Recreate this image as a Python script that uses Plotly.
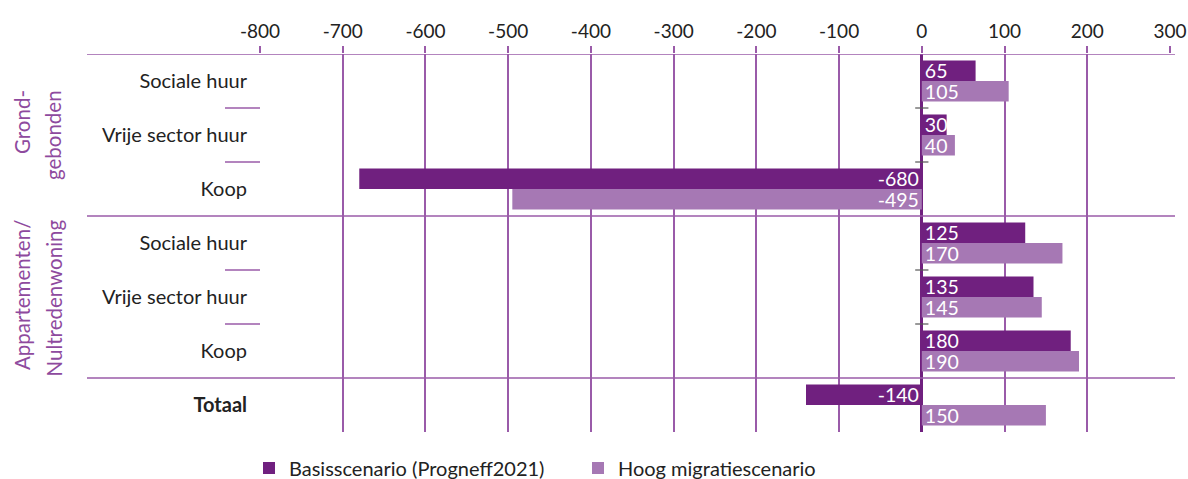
import plotly.graph_objects as go

categories = ["Sociale huur", "Vrije sector huur", "Koop",
              "Sociale huur", "Vrije sector huur", "Koop", "<b>Totaal</b>"]
basis = [65, 30, -680, 125, 135, 180, -140]
hoog = [105, 40, -495, 170, 145, 190, 150]
series_names = ["Basisscenario (Progneff2021)", "Hoog migratiescenario"]
group_lines = [["Grond-", "gebonden"], ["Appartementen/", "Nultredenwoning"]]
x_ticks = list(range(-800, 301, 100))
x_ticktext = [str(v) for v in x_ticks]

DARK = "#70207F"
LIGHT = "#A678B4"
GRID = "#9A5BA9"
FONT = "Lato"

ypos = list(range(len(categories)))

fig = go.Figure()
for name, vals, col in [(series_names[0], basis, DARK), (series_names[1], hoog, LIGHT)]:
    fig.add_trace(go.Bar(
        y=ypos, x=vals, name=name, orientation="h",
        marker=dict(color=col, line=dict(width=0)),
        text=[str(v) for v in vals], textposition="inside", textangle=0,
        insidetextanchor="start", constraintext="none",
        textfont=dict(color="white", size=19.5, family=FONT),
        hoverinfo="x+name",
    ))

W, H = 1188, 479
plot_l, plot_r, plot_t, plot_b = 260, 1170, 54, 432
ml, mr, mt, mb = plot_l, W - plot_r, plot_t, H - plot_b
pw = plot_r - plot_l
ph = plot_b - plot_t

def px2paper_x(px):
    return (px - plot_l) / pw

def px2paper_y(py):
    return 1 - (py - plot_t) / ph

shapes = []
for yb in [-0.5, 2.5, 5.5]:
    shapes.append(dict(type="line", xref="paper", yref="y",
                       x0=px2paper_x(87), x1=px2paper_x(1175), y0=yb, y1=yb,
                       line=dict(color=GRID, width=1.5), layer="above"))
for yb in [0.5, 1.5, 3.5, 4.5]:
    shapes.append(dict(type="line", xref="paper", yref="y",
                       x0=px2paper_x(225), x1=0, y0=yb, y1=yb,
                       line=dict(color=GRID, width=1.5)))
    shapes.append(dict(type="line", xref="x", yref="y",
                       x0=-8, x1=8, y0=yb, y1=yb,
                       line=dict(color="#555555", width=1.2), layer="above"))

annotations = []
label_tops = [88, 218]
line_x = [22, 53]
for g, lines in enumerate(group_lines):
    for j, txt in enumerate(lines):
        annotations.append(dict(text=txt, xref="paper", yref="paper",
                                x=px2paper_x(line_x[j]), y=px2paper_y(label_tops[g]),
                                xanchor="center", yanchor="top",
                                textangle=-90, showarrow=False,
                                font=dict(family=FONT, size=20.5, color="#8E4A9E")))

fig.update_layout(
    width=W, height=H,
    margin=dict(l=ml, r=mr, t=mt, b=mb, autoexpand=False),
    paper_bgcolor="white", plot_bgcolor="white",
    barmode="group", bargap=0.24, bargroupgap=0,
    font=dict(family=FONT, color="#222222"),
    shapes=shapes, annotations=annotations,
    legend=dict(orientation="h", xref="container", yref="container",
                x=249 / W, xanchor="left", y=(H - 468) / H, yanchor="middle",
                font=dict(family=FONT, size=20, color="#222222"),
                entrywidth=284, entrywidthmode="pixels", traceorder="normal"),
    xaxis=dict(side="top", range=[-800, 300], tickvals=x_ticks, ticktext=x_ticktext,
               tickfont=dict(family=FONT, size=19, color="#222222"),
               showgrid=True, gridcolor=GRID, gridwidth=1.5,
               ticks="outside", ticklen=7, tickcolor=GRID, tickwidth=1.5,
               zeroline=True, zerolinecolor=DARK, zerolinewidth=2.5,
               showline=False, fixedrange=True, automargin=False),
    yaxis=dict(range=[6.5, -0.5], tickvals=ypos, ticktext=categories,
               tickfont=dict(family=FONT, size=20, color="#222222"),
               ticklabelstandoff=12, showgrid=False, zeroline=False,
               showline=False, ticks="", fixedrange=True, automargin=False),
)

fig.write_html(
    "out.html",
    config={"displayModeBar": False},
    post_script="document.body.style.margin='0';document.body.style.overflow='hidden';"
                "document.documentElement.style.overflow='hidden';",
)
